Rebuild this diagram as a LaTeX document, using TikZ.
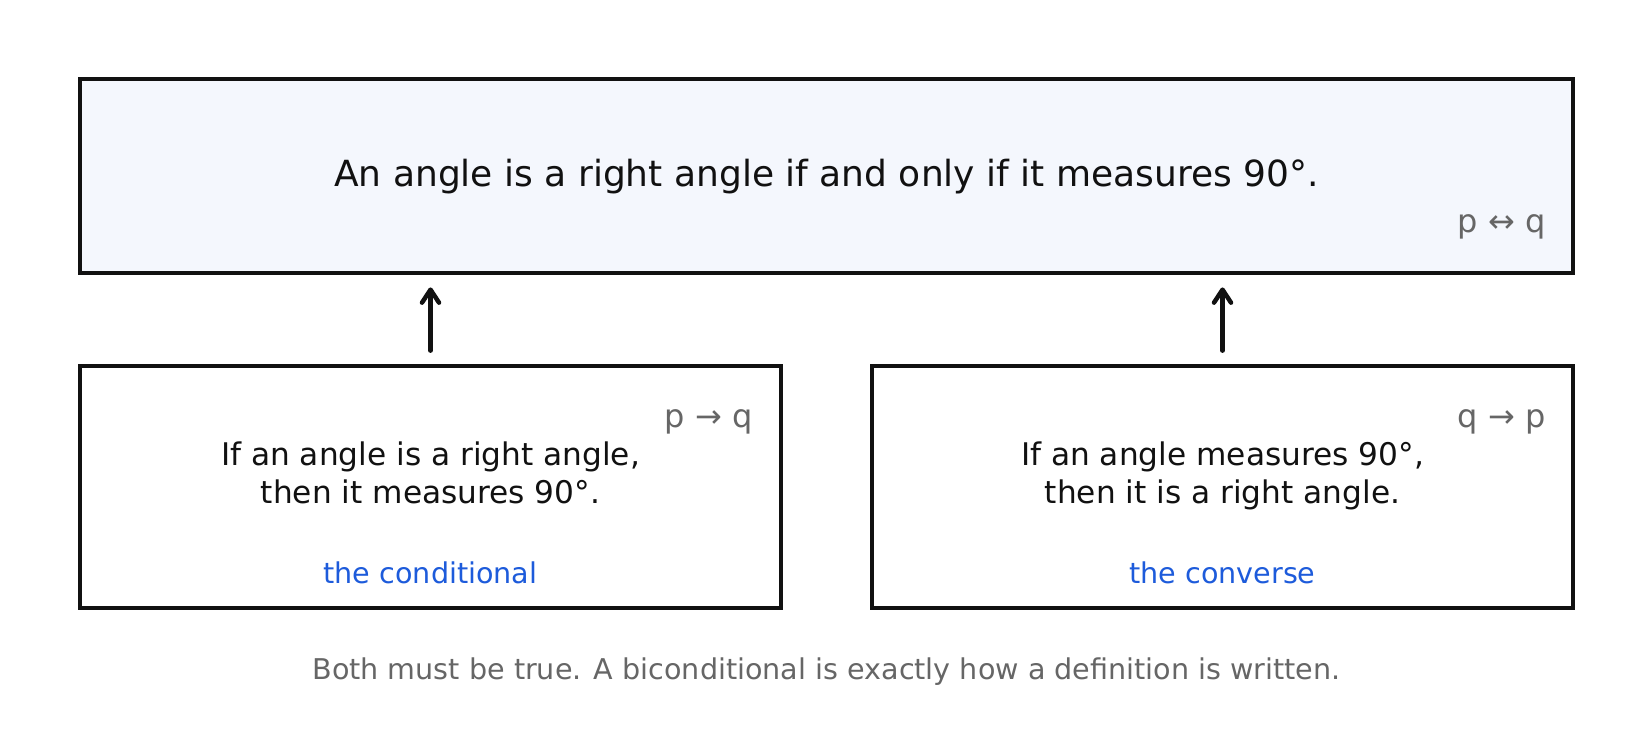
\documentclass[tikz,border=0pt]{standalone}
\usepackage{fontspec}
\setmainfont{DejaVu Sans}
\usetikzlibrary{arrows.meta}
\definecolor{ink}{HTML}{111111}
\definecolor{muted}{HTML}{666666}
\definecolor{accent}{HTML}{1D5BDB}
\definecolor{topfill}{HTML}{F4F7FD}
\tikzset{
  box/.style={draw=ink, line width=2.4pt, rectangle, inner sep=0pt},
  maintext/.style={text=ink, inner sep=0pt, font=\fontsize{18pt}{21pt}\selectfont},
  bodytext/.style={text=ink, inner sep=0pt, font=\fontsize{15.6pt}{19pt}\selectfont},
  symtext/.style={text=muted, inner sep=0pt, font=\fontsize{16pt}{19pt}\selectfont},
  tagtext/.style={text=accent, inner sep=0pt, font=\fontsize{14.3pt}{17pt}\selectfont},
  notetext/.style={text=muted, inner sep=0pt, font=\fontsize{14.3pt}{17pt}\selectfont},
  uparrow/.style={draw=ink, line width=2.25pt, line cap=round,
    -{Straight Barb[length=6.5pt,width=8.5pt,line cap=round,line join=round]},
    shorten <=6.5pt, shorten >=6pt}
}
\begin{document}
\begin{tikzpicture}[x=0.5pt,y=-0.5pt]
\useasboundingbox[fill=white] (0,0) rectangle (1652,748);
% boxes
\node[box, fill=topfill, minimum width=746.5pt, minimum height=97pt] (bic) at (826.5,176) {};
\node[box, fill=white, minimum width=350.5pt, minimum height=121pt] (cond) at (430.5,487) {};
\node[box, fill=white, minimum width=350.5pt, minimum height=121pt] (conv) at (1222.5,487) {};
% top text
\node[maintext, anchor=base] (bictext) at (826.5,187) {An angle is a right angle if and only if it measures 90°.};
\node[symtext, anchor=base east] (bicsym) at (1546,233) {p ↔ q};
% left box
\node[symtext, anchor=base east] (condsym) at (753,427) {p → q};
\node[bodytext, anchor=base] (condA) at (430.5,465) {If an angle is a right angle,};
\node[bodytext, anchor=base] (condB) at (430.5,503) {then it measures 90°.};
\node[tagtext, anchor=base] (condtag) at (430.5,583) {the conditional};
% right box
\node[symtext, anchor=base east] (convsym) at (1546,427) {q → p};
\node[bodytext, anchor=base] (convA) at (1222.5,465) {If an angle measures 90°,};
\node[bodytext, anchor=base] (convB) at (1222.5,503) {then it is a right angle.};
\node[tagtext, anchor=base] (convtag) at (1222.5,583) {the converse};
% caption
\node[notetext, anchor=base] (note) at (826.5,679) {Both must be true. A biconditional is exactly how a definition is written.};
% arrows
\draw[uparrow] (cond.north) -- (cond.north |- bic.south);
\draw[uparrow] (conv.north) -- (conv.north |- bic.south);
\end{tikzpicture}
\end{document}
